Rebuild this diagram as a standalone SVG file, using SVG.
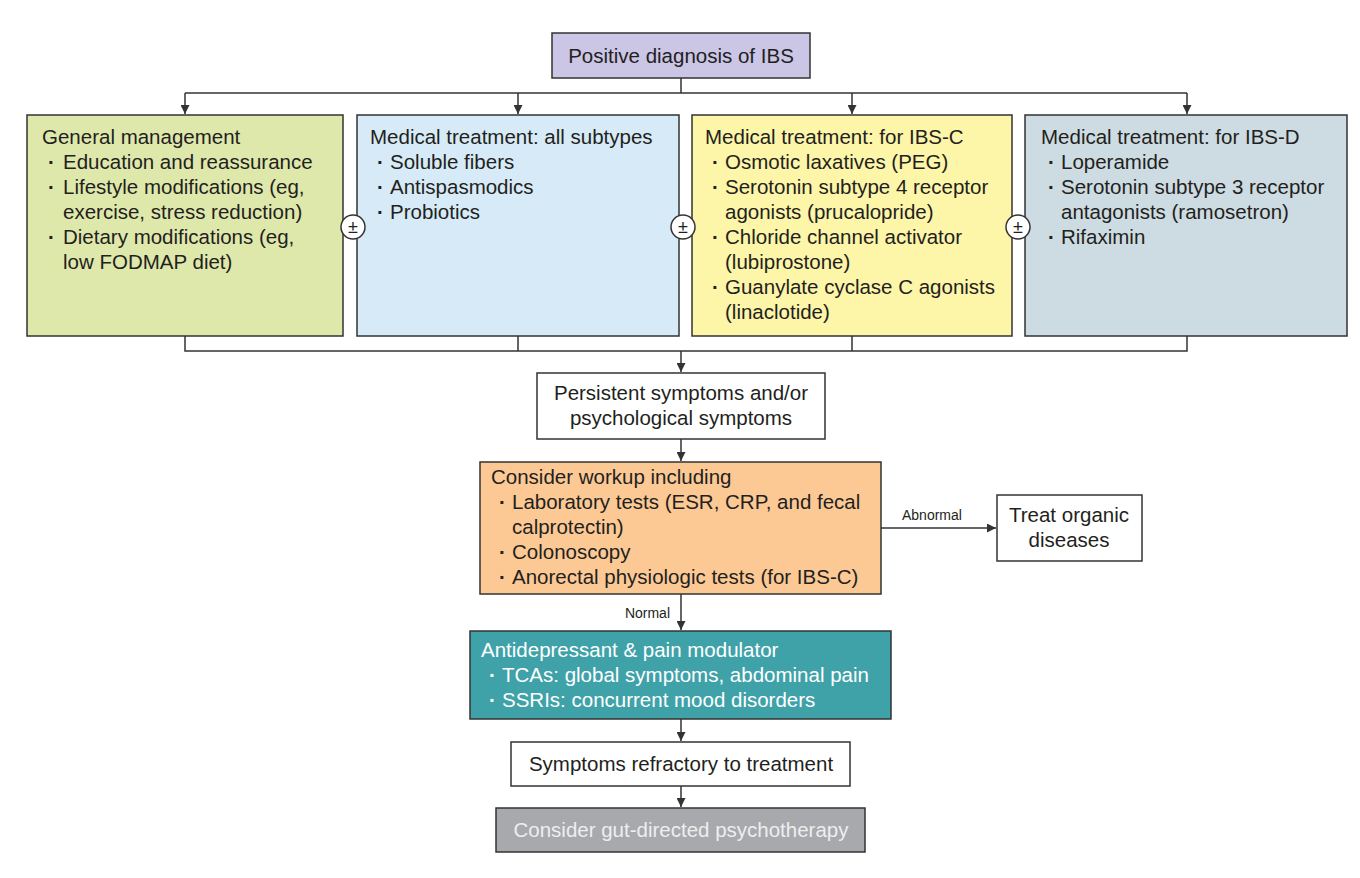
<svg xmlns="http://www.w3.org/2000/svg" width="1360" height="878" viewBox="0 0 1360 878">
<style>
text{font-family:"Liberation Sans",Arial,sans-serif;font-size:20.5px;fill:#231f20}
.b{stroke:#333;stroke-width:1.5}
.c path,.c line{stroke:#333;stroke-width:1.5;fill:none}
.s{font-size:14px}
.w{fill:#fff}
.m{text-anchor:middle}
.d{font-weight:bold}
</style>
<defs><marker id="a" viewBox="0 0 10 10" refX="10" refY="5" markerWidth="9" markerHeight="9" markerUnits="userSpaceOnUse" orient="auto"><path d="M0,0L10,5L0,10z" fill="#333"/></marker></defs>
<rect width="1360" height="878" fill="#fff"/>
<g class="c">
<line x1="681" y1="78" x2="681" y2="93"/>
<line x1="185" y1="93" x2="1187" y2="93"/>
<line x1="185" y1="93" x2="185" y2="114" marker-end="url(#a)"/>
<line x1="518" y1="93" x2="518" y2="114" marker-end="url(#a)"/>
<line x1="852" y1="93" x2="852" y2="114" marker-end="url(#a)"/>
<line x1="1187" y1="93" x2="1187" y2="114" marker-end="url(#a)"/>
<path d="M185,336V351H1187V336M518,336V351M852,336V351"/>
<line x1="681" y1="351" x2="681" y2="372" marker-end="url(#a)"/>
<line x1="681" y1="439" x2="681" y2="461" marker-end="url(#a)"/>
<line x1="881" y1="528" x2="996" y2="528" marker-end="url(#a)"/>
<line x1="681" y1="594" x2="681" y2="630" marker-end="url(#a)"/>
<line x1="681" y1="719" x2="681" y2="741" marker-end="url(#a)"/>
<line x1="681" y1="786" x2="681" y2="807" marker-end="url(#a)"/>
</g>
<text class="s" x="902" y="520">Abnormal</text>
<text class="s" x="670" y="618" text-anchor="end">Normal</text>
<g id="top"><rect class="b" x="552" y="33" width="258" height="45" fill="#cbc5e6"/><text class="m" x="681" y="63">Positive diagnosis of IBS</text></g>
<g id="gen"><rect class="b" x="27" y="115" width="316" height="221" fill="#dfe8ab"/>
<text x="42" y="144">General management</text>
<text class="d" x="48" y="169">·</text><text x="63" y="169">Education and reassurance</text>
<text class="d" x="48" y="194">·</text><text x="63" y="194">Lifestyle modifications (eg,</text>
<text x="63" y="219">exercise, stress reduction)</text>
<text class="d" x="48" y="244">·</text><text x="63" y="244">Dietary modifications (eg,</text>
<text x="63" y="269">low FODMAP diet)</text></g>
<g id="all"><rect class="b" x="357" y="115" width="322" height="221" fill="#d6ebf7"/>
<text x="370" y="144">Medical treatment: all subtypes</text>
<text class="d" x="377" y="169">·</text><text x="390" y="169">Soluble fibers</text>
<text class="d" x="377" y="194">·</text><text x="390" y="194">Antispasmodics</text>
<text class="d" x="377" y="219">·</text><text x="390" y="219">Probiotics</text></g>
<g id="ibsc"><rect class="b" x="692" y="115" width="320" height="221" fill="#fdf5a8"/>
<text x="705" y="144">Medical treatment: for IBS-C</text>
<text class="d" x="712" y="169">·</text><text x="725" y="169">Osmotic laxatives (PEG)</text>
<text class="d" x="712" y="194">·</text><text x="725" y="194">Serotonin subtype 4 receptor</text>
<text x="725" y="219">agonists (prucalopride)</text>
<text class="d" x="712" y="244">·</text><text x="725" y="244">Chloride channel activator</text>
<text x="725" y="269">(lubiprostone)</text>
<text class="d" x="712" y="294">·</text><text x="725" y="294">Guanylate cyclase C agonists</text>
<text x="725" y="319">(linaclotide)</text></g>
<g id="ibsd"><rect class="b" x="1025" y="115" width="322" height="221" fill="#cddbe2"/>
<text x="1041" y="144">Medical treatment: for IBS-D</text>
<text class="d" x="1048" y="169">·</text><text x="1061" y="169">Loperamide</text>
<text class="d" x="1048" y="194">·</text><text x="1061" y="194">Serotonin subtype 3 receptor</text>
<text x="1061" y="219">antagonists (ramosetron)</text>
<text class="d" x="1048" y="244">·</text><text x="1061" y="244">Rifaximin</text></g>
<g id="pm1"><circle class="b" cx="353" cy="227" r="12" fill="#fff"/><text class="m" x="353" y="233" style="font-size:18px">±</text></g>
<g id="pm2"><circle class="b" cx="683" cy="227" r="12" fill="#fff"/><text class="m" x="683" y="233" style="font-size:18px">±</text></g>
<g id="pm3"><circle class="b" cx="1018" cy="227" r="12" fill="#fff"/><text class="m" x="1018" y="233" style="font-size:18px">±</text></g>
<g id="pers"><rect class="b" x="537" y="373" width="288" height="66" fill="#fff"/>
<text class="m" x="681" y="400">Persistent symptoms and/or</text>
<text class="m" x="681" y="425">psychological symptoms</text></g>
<g id="work"><rect class="b" x="480" y="462" width="401" height="132" fill="#fcc995"/>
<text x="491" y="484">Consider workup including</text>
<text class="d" x="499" y="509">·</text><text x="512" y="509">Laboratory tests (ESR, CRP, and fecal</text>
<text x="512" y="534">calprotectin)</text>
<text class="d" x="499" y="559">·</text><text x="512" y="559">Colonoscopy</text>
<text class="d" x="499" y="584">·</text><text x="512" y="584">Anorectal physiologic tests (for IBS-C)</text></g>
<g id="treat"><rect class="b" x="997" y="495" width="145" height="66" fill="#fff"/>
<text class="m" x="1069" y="522">Treat organic</text>
<text class="m" x="1069" y="547">diseases</text></g>
<g id="anti"><rect class="b" x="470" y="631" width="421" height="88" fill="#3fa2a9"/>
<text class="w" x="481" y="657">Antidepressant &amp; pain modulator</text>
<text class="w d" x="489" y="682">·</text><text class="w" x="502" y="682">TCAs: global symptoms, abdominal pain</text>
<text class="w d" x="489" y="707">·</text><text class="w" x="502" y="707">SSRIs: concurrent mood disorders</text></g>
<g id="refr"><rect class="b" x="511" y="742" width="339" height="44" fill="#fff"/>
<text class="m" x="681" y="771">Symptoms refractory to treatment</text></g>
<g id="psy"><rect class="b" x="496" y="808" width="369" height="44" fill="#a7a9ac"/>
<text class="m" x="681" y="837" style="fill:#eeeeee">Consider gut-directed psychotherapy</text></g>
</svg>
